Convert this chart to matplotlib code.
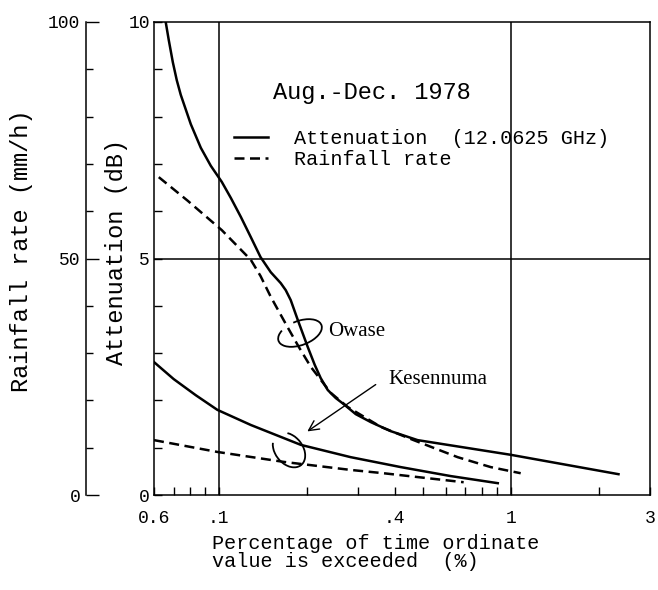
import matplotlib
matplotlib.use('Agg')
import matplotlib.pyplot as plt
from matplotlib.patches import Arc
from matplotlib.ticker import FixedLocator, NullFormatter

# Owase - attenuation (dB) vs percentage of time (%)
owase_att_x = [0.0658, 0.0674, 0.0696, 0.0718, 0.0741, 0.0802, 0.0868, 0.0939, 0.1024, 0.110,
               0.119, 0.1288, 0.139, 0.1507, 0.163, 0.1696, 0.1764, 0.1865, 0.2017, 0.2132,
               0.2235, 0.2362, 0.2516, 0.268, 0.2945, 0.332, 0.388, 0.480, 1.0, 2.34]
owase_att_y = [10.0, 9.62, 9.15, 8.77, 8.46, 7.84, 7.34, 6.96, 6.62, 6.28,
               5.88, 5.45, 5.03, 4.71, 4.48, 4.33, 4.12, 3.70, 3.13, 2.75,
               2.47, 2.22, 2.05, 1.92, 1.71, 1.54, 1.35, 1.16, 0.85, 0.44]

# Owase - rainfall rate (mm/h)
owase_rain_x = [0.0623, 0.0783, 0.1024, 0.1288, 0.139, 0.1507, 0.172, 0.188, 0.2066, 0.2418,
                0.2765, 0.359, 0.465, 0.658, 0.854, 1.082]
owase_rain_y = [67.2, 62.2, 56.0, 49.7, 46.3, 41.9, 35.5, 31.3, 27.1, 21.6,
                18.6, 14.4, 11.6, 8.0, 5.9, 4.6]

# Kesennuma - attenuation (dB)
kes_att_x = [0.06, 0.0701, 0.0834, 0.0989, 0.1288, 0.191, 0.283, 0.420, 0.623, 0.903]
kes_att_y = [2.81, 2.45, 2.11, 1.80, 1.48, 1.06, 0.80, 0.59, 0.40, 0.25]

# Kesennuma - rainfall rate (mm/h)
kes_rain_x = [0.06, 0.099, 0.167, 0.283, 0.367, 0.69]
kes_rain_y = [11.6, 9.1, 7.0, 5.3, 4.6, 2.7]

x_ticks = [0.06, 0.1, 0.4, 1, 3]
x_ticklabels = ['0.6', '.1', '.4', '1', '3']
x_minor = [0.07, 0.08, 0.09, 0.2, 0.3, 0.5, 0.6, 0.7, 0.8, 0.9, 2]

mono = 'Liberation Mono'
serif = 'Liberation Serif'
lw = 1.8
dash = (4, 2.2)

fig = plt.figure(figsize=(6.58, 5.90), dpi=100)
ax = fig.add_axes([154/658, 95/590, 496/658, 473/590])
ax.set_xscale('log')
ax.set_xlim(0.06, 3)
ax.set_ylim(0, 10)

for s in ax.spines.values():
    s.set_linewidth(1.1)

# grid lines of the original figure
ax.axvline(0.1, color='black', lw=1.1)
ax.axvline(1, color='black', lw=1.1)
ax.axhline(5, color='black', lw=1.1)

l1, = ax.plot(owase_att_x, owase_att_y, color='black', lw=lw)
ax.plot(kes_att_x, kes_att_y, color='black', lw=lw)

ax.xaxis.set_major_locator(FixedLocator(x_ticks))
ax.set_xticklabels(x_ticklabels, fontfamily=mono, fontsize=13)
ax.xaxis.set_minor_locator(FixedLocator(x_minor))
ax.xaxis.set_minor_formatter(NullFormatter())
ax.yaxis.set_major_locator(FixedLocator([0, 5, 10]))
ax.yaxis.set_minor_locator(FixedLocator([1, 2, 3, 4, 6, 7, 8, 9]))
ax.set_yticklabels(['0', '5', '10'], fontfamily=mono, fontsize=13)
ax.tick_params(axis='both', which='both', direction='in', length=6, width=1)
ax.tick_params(axis='x', which='major', pad=11)
ax.tick_params(axis='y', which='major', pad=3)

ax.set_ylabel('Attenuation (dB)', fontfamily=mono, fontsize=17, va='center')
ax.yaxis.set_label_coords((116-154)/496, (495-252)/473)
ax.set_xlabel('Percentage of time ordinate\nvalue is exceeded  (%)', fontfamily=mono,
              fontsize=14.5, ha='left', va='top', linespacing=0.95)
ax.xaxis.set_label_coords((212-154)/496, (495-534)/473)

# rainfall rate axis on the far left
ax2 = ax.twinx()
ax2.set_ylim(0, 100)
ax2.spines['right'].set_visible(False)
ax2.spines['top'].set_visible(False)
ax2.spines['bottom'].set_visible(False)
ax2.spines['left'].set_visible(True)
ax2.spines['left'].set_linewidth(1.1)
ax2.spines['left'].set_position(('axes', (86-154)/496))
ax2.yaxis.set_ticks_position('left')
ax2.yaxis.set_label_position('left')
ax2.yaxis.set_major_locator(FixedLocator([0, 50, 100]))
ax2.yaxis.set_minor_locator(FixedLocator([10, 20, 30, 40, 60, 70, 80, 90]))
ax2.set_yticklabels(['0', '50', '100'], fontfamily=mono, fontsize=13)
ax2.tick_params(axis='y', which='major', direction='in', length=9, width=1, pad=4)
ax2.tick_params(axis='y', which='minor', direction='in', length=5, width=1)
ax2.set_ylabel('Rainfall rate (mm/h)', fontfamily=mono, fontsize=17, va='center')
ax2.yaxis.set_label_coords((22-154)/496, (495-251)/473)

l2, = ax2.plot(owase_rain_x, owase_rain_y, color='black', lw=lw, ls='--', dashes=dash)
ax2.plot(kes_rain_x, kes_rain_y, color='black', lw=lw, ls='--', dashes=dash)

# title and legend inside plot
ax.text((372-154)/496, (495-92)/473, 'Aug.-Dec. 1978', transform=ax.transAxes,
        fontfamily=mono, fontsize=17, ha='center', va='center')
ax.legend([l1, l2], ['Attenuation  (12.0625 GHz)', 'Rainfall rate'],
          loc='upper left', bbox_to_anchor=((234-154)/496, (495-129)/473),
          frameon=False, prop={'family': mono, 'size': 14.5},
          handlelength=1.7, handletextpad=1.3, labelspacing=0.12,
          borderpad=0, borderaxespad=0)

# station labels
ax.text((328-154)/496, (495-332)/473, 'Owase', transform=ax.transAxes,
        fontfamily=serif, fontsize=15, ha='left', va='center')
ax.text((388-154)/496, (495-380)/473, 'Kesennuma', transform=ax.transAxes,
        fontfamily=serif, fontsize=15, ha='left', va='center')
ax.annotate('', xy=((305-154)/496, (495-433)/473), xycoords='axes fraction',
            xytext=((378-154)/496, (495-383)/473), textcoords='axes fraction',
            arrowprops=dict(arrowstyle='->', color='black', lw=1.0, mutation_scale=18))

# hand drawn loops around the curve pairs
ax.add_patch(Arc(((300-154)/496, (495-333)/473), 46/496, 24/473, angle=22,
                 theta1=150, theta2=460, transform=ax.transAxes, color='black', lw=1.3))
ax.add_patch(Arc(((289-154)/496, (495-450)/473), 28/496, 38/473, angle=35,
                 theta1=120, theta2=420, transform=ax.transAxes, color='black', lw=1.3))

fig.savefig('out.png', dpi=100)
